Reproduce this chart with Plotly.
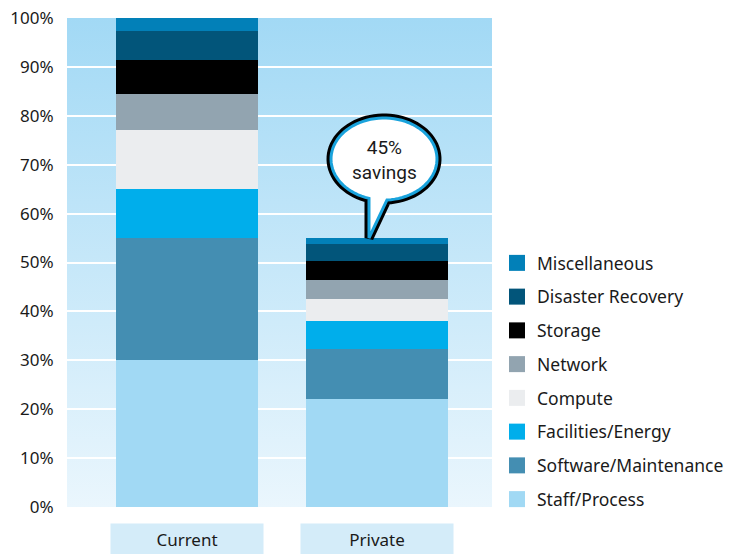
import base64, math
import plotly.graph_objects as go

categories = ["Current", "Private"]
series_names = ["Staff/Process", "Software/Maintenance", "Facilities/Energy", "Compute",
                "Network", "Storage", "Disaster Recovery", "Miscellaneous"]
current_vals = [30, 25, 10, 12, 7.5, 7, 5.8, 2.7]
private_vals = [22, 10.4, 5.7, 4.5, 3.9, 3.9, 3.4, 1.2]
colors = ["#a1d9f4", "#448eb2", "#00aeeb", "#ebedef", "#92a4b0", "#000000", "#02557a", "#0280b8"]
y_ticks = [0, 10, 20, 30, 40, 50, 60, 70, 80, 90, 100]
callout_text = "45%<br>savings"

FONT = "Noto Sans, Open Sans, sans-serif"
NARROW = "Roboto, sans-serif"

W, H = 729, 554
L, R, T, B = 67, 492, 18, 507   # plot area in px

fig = go.Figure()
for name, c, cv, pv in zip(series_names, colors, current_vals, private_vals):
    fig.add_trace(go.Bar(x=categories, y=[cv, pv], name=name, marker_color=c,
                         marker_line_width=0, width=0.747, showlegend=False))
# legend entries, top to bottom
for name, c in reversed(list(zip(series_names, colors))):
    fig.add_trace(go.Scatter(x=[None], y=[None], mode="markers", name=name,
                             marker=dict(symbol="square", size=16, color=c),
                             legendgroup=name, showlegend=True))

# gradient background image
svg = ('<svg xmlns="http://www.w3.org/2000/svg" width="10" height="100" preserveAspectRatio="none">'
       '<defs><linearGradient id="g" x1="0" y1="0" x2="0" y2="1">'
       '<stop offset="0" stop-color="#a2d9f5"/><stop offset="1" stop-color="#eaf6fd"/>'
       '</linearGradient></defs><rect width="10" height="100" fill="url(#g)"/></svg>')
src = "data:image/svg+xml;base64," + base64.b64encode(svg.encode()).decode()

def px2paper(px, py):
    return ((px - L) / (R - L), (B - py) / (B - T))

# speech bubble path
cx, cy, rx, ry = 384, 159, 53, 41
tip = (369, 238)
t0 = math.pi / 2 + math.asin((cx - 369) / rx)
t1 = math.pi / 2 - math.asin((387 - cx) / rx) + 2 * math.pi
pts = [tip]
n = 80
for i in range(n + 1):
    t = t0 + (t1 - t0) * i / n
    pts.append((cx + rx * math.cos(t), cy + ry * math.sin(t)))
pp = [px2paper(*p) for p in pts]
path = "M " + " L ".join(f"{x:.5f},{y:.5f}" for x, y in pp) + " Z"

shapes = [
    dict(type="path", path=path, xref="paper", yref="paper", fillcolor="white",
         line=dict(color="black", width=9), layer="above"),
    dict(type="path", path=path, xref="paper", yref="paper", fillcolor="white",
         line=dict(color="#1aa3dc", width=3), layer="above"),
]

annotations = []
for cat in categories:
    annotations.append(dict(x=cat, xref="x", y=(B - 539) / (B - T), yref="paper",
                            text=cat, showarrow=False, bgcolor="#d4ecf9",
                            width=152, height=30, borderpad=0,
                            font=dict(family=FONT, size=17, color="#1a1a1a"),
                            xanchor="center", yanchor="middle"))
xp, yp = px2paper(cx, 160)
annotations.append(dict(x=xp, y=yp, xref="paper", yref="paper", text=callout_text,
                        showarrow=False, xanchor="center", yanchor="middle",
                        font=dict(family=NARROW, size=19, color="#1a1a1a")))

fig.update_layout(
    width=W, height=H,
    margin=dict(l=L, r=W - R, t=T, b=H - B, pad=0, autoexpand=False),
    paper_bgcolor="white", plot_bgcolor="#c6e8f8",
    barmode="stack", bargap=0,
    font=dict(family=FONT, size=16, color="#1a1a1a"),
    xaxis=dict(range=[-0.632, 1.605], showticklabels=False, showgrid=False,
               zeroline=False, showline=False, fixedrange=True, automargin=False),
    yaxis=dict(range=[0, 100], tickvals=y_ticks, ticktext=[f"{v}%" for v in y_ticks],
               showgrid=True, gridcolor="white", gridwidth=2, zeroline=False,
               showline=False, ticks="outside", ticklen=9, tickcolor="rgba(0,0,0,0)",
               automargin=False,
               tickfont=dict(family=FONT, size=17, color="#1a1a1a")),
    legend=dict(x=(497 - L) / (R - L), xanchor="left", y=(B - 245) / (B - T), yanchor="top",
                traceorder="grouped", tracegroupgap=8,
                font=dict(family=FONT, size=17.5, color="#1a1a1a"),
                bgcolor="rgba(0,0,0,0)", itemclick=False, itemdoubleclick=False),
    images=[dict(source=src, xref="paper", yref="paper", x=0, y=1, sizex=1, sizey=1,
                 sizing="stretch", xanchor="left", yanchor="top", layer="below")],
    shapes=shapes,
    annotations=annotations,
    showlegend=True,
)

fig.write_html("out.html", config={"displayModeBar": False},
               post_script="document.body.style.margin='0';")
